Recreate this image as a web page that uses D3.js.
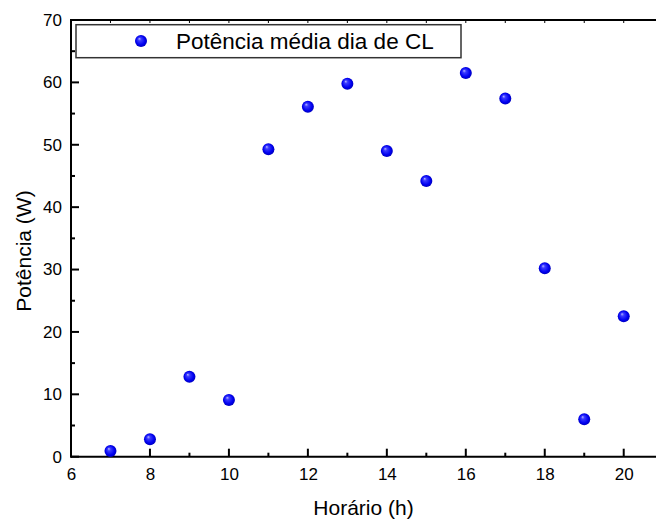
<!DOCTYPE html>
<html><head><meta charset="utf-8">
<script src="https://cdn.jsdelivr.net/npm/d3@7"></script>
<style>body{margin:0;background:#fff}svg{display:block}text{font-family:"Liberation Sans",Arial,sans-serif}</style>
</head><body><svg id="c" width="656" height="523"></svg>
<script>
const hours = [7,8,9,10,11,12,13,14,15,16,17,18,19,20];
const power = [0.9,2.8,12.8,9.1,49.3,56.1,59.8,49.0,44.2,61.5,57.4,30.2,6.0,22.5];
const xTicks = [6,8,10,12,14,16,18,20];
const yTicks = [0,10,20,30,40,50,60,70];
const seriesName = "Potência média dia de CL";
const xTitle = "Horário (h)";
const yTitle = "Potência (W)";

const svg = d3.select("#c");
const L = 71, T = 20, B = 456.7;
const x = d3.scaleLinear().domain([6,21]).range([L, L + 15*39.48]);
const y = d3.scaleLinear().domain([0,70]).range([B, T]);

const defs = svg.append("defs");
const g = defs.append("radialGradient").attr("id","ball").attr("cx","50%").attr("cy","50%").attr("r","55%").attr("fx","35%").attr("fy","30%");
g.append("stop").attr("offset","0%").attr("stop-color","#b8b8ff");
g.append("stop").attr("offset","25%").attr("stop-color","#3a3aff");
g.append("stop").attr("offset","70%").attr("stop-color","#0000f0");
g.append("stop").attr("offset","100%").attr("stop-color","#0000b0");

const axW = 2;
const xb = svg.append("g").attr("transform",`translate(0,${B})`)
  .call(d3.axisBottom(x).tickValues(xTicks).tickSize(0).tickPadding(11).tickFormat(d3.format("d")));
xb.select(".domain").remove();
xb.selectAll("text").attr("font-size",17).attr("fill","#000");
svg.append("g").selectAll("line").data(d3.range(6,21,1)).join("line")
  .attr("x1",d=>x(d)).attr("x2",d=>x(d)).attr("y1",B).attr("y2",d=>B-(d%2===0?8:4))
  .attr("stroke","#000").attr("stroke-width",axW);
svg.append("g").selectAll("line").data(d3.range(7,21,1)).join("line")
  .attr("x1",d=>x(d)).attr("x2",d=>x(d)).attr("y1",T).attr("y2",T+3)
  .attr("stroke","#000").attr("stroke-width",1);
const yl = svg.append("g").attr("transform",`translate(${L},0)`)
  .call(d3.axisLeft(y).tickValues(yTicks).tickSize(0).tickPadding(9).tickFormat(d3.format("d")));
yl.select(".domain").remove();
yl.selectAll("text").attr("font-size",17).attr("fill","#000");
svg.append("g").selectAll("line").data(d3.range(0,71,5)).join("line")
  .attr("x1",L).attr("x2",d=>L+(d%10===0?8:4)).attr("y1",d=>y(d)).attr("y2",d=>y(d))
  .attr("stroke","#000").attr("stroke-width",axW);
svg.append("line").attr("x1",L).attr("x2",656).attr("y1",B).attr("y2",B).attr("stroke","#000").attr("stroke-width",axW);
svg.append("line").attr("x1",L).attr("x2",656).attr("y1",T).attr("y2",T).attr("stroke","#000").attr("stroke-width",axW);
svg.append("line").attr("x1",L).attr("x2",L).attr("y1",T-1).attr("y2",B+1).attr("stroke","#000").attr("stroke-width",axW);

svg.append("g").selectAll("circle").data(hours.map((h,i)=>[h,power[i]])).join("circle")
  .attr("cx",d=>x(d[0])).attr("cy",d=>y(d[1])).attr("r",6).attr("fill","url(#ball)");

svg.append("rect").attr("x",76).attr("y",24.7).attr("width",385).attr("height",33)
  .attr("fill","#fff").attr("stroke","#333").attr("stroke-width",1.5);
svg.append("circle").attr("cx",141).attr("cy",41).attr("r",6).attr("fill","url(#ball)");
svg.append("text").attr("x",176).attr("y",49).attr("font-size",22.5).text(seriesName);

svg.append("text").attr("x",(L+656)/2).attr("y",515).attr("text-anchor","middle").attr("font-size",21).text(xTitle);
svg.append("text").attr("transform",`translate(31,${251}) rotate(-90)`).attr("text-anchor","middle").attr("font-size",21).text(yTitle);
</script></body></html>
